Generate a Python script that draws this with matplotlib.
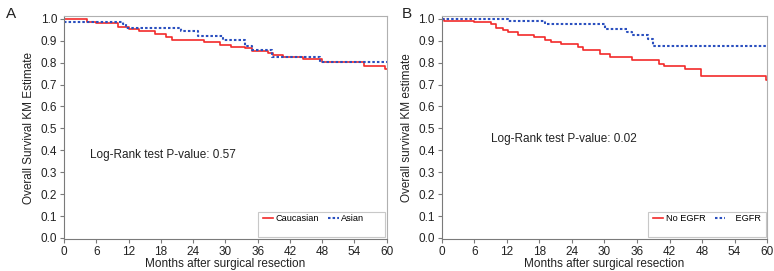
import numpy as np
import matplotlib
matplotlib.use("Agg")
import matplotlib.pyplot as plt
from matplotlib.patches import Rectangle
from matplotlib.lines import Line2D

plt.rcParams['font.family'] = ['Liberation Sans', 'DejaVu Sans']

# panel A: Caucasian vs Asian
cau_t = [0, 4.2, 6, 10, 12, 14, 17, 19, 20, 26, 29, 31, 33.6, 35, 38, 38.8, 40.8, 44.5, 47.9, 55.7, 59.7, 60]
cau_s = [1.0, 0.985, 0.98, 0.965, 0.955, 0.945, 0.93, 0.915, 0.905, 0.895, 0.88, 0.87, 0.865, 0.855,
         0.845, 0.835, 0.825, 0.815, 0.805, 0.785, 0.77, 0.77]
asi_t = [0, 11, 11.6, 21.8, 25, 29.6, 33.6, 34.9, 38.6, 47.6, 60]
asi_s = [0.985, 0.975, 0.96, 0.945, 0.92, 0.905, 0.875, 0.86, 0.825, 0.805, 0.805]

# panel B: No EGFR vs EGFR
noe_t = [0, 0.3, 6, 9, 10, 11.3, 12.2, 14, 17, 19, 20.2, 22, 25.2, 26, 29.2, 31, 35, 40, 40.9, 44.9,
         47.9, 59.8, 60]
noe_s = [1.0, 0.99, 0.985, 0.975, 0.96, 0.95, 0.94, 0.925, 0.915, 0.905, 0.895, 0.885, 0.87, 0.86,
         0.84, 0.825, 0.81, 0.795, 0.785, 0.77, 0.74, 0.72, 0.72]
egf_t = [0, 12.2, 19, 30.1, 34.1, 35, 38.1, 39, 60]
egf_s = [1.0, 0.99, 0.975, 0.955, 0.94, 0.925, 0.91, 0.875, 0.875]

panels = [
    dict(letter='A', lx=0.0077, rect=[0.0827, 0.118, 0.417, 0.823], ylabel='Overall Survival KM Estimate',
         curves=[(cau_t, cau_s, 'Caucasian'), (asi_t, asi_s, 'Asian')],
         ptext='Log-Rank test P-value: 0.57', pxy=(4.8, 0.38), legx=0.60, pad2=''),
    dict(letter='B', lx=0.519, rect=[0.571, 0.118, 0.42, 0.823], ylabel='Overall survival KM estimate',
         curves=[(noe_t, noe_s, 'No EGFR'), (egf_t, egf_s, 'EGFR')],
         ptext='Log-Rank test P-value: 0.02', pxy=(9.0, 0.45), legx=0.634, pad2='   '),
]

RED = '#f22a2a'
BLUE = '#2a4fbf'
SPINE = '#7a7a7a'

fig = plt.figure(figsize=(7.74, 2.71), dpi=100)
for p in panels:
    ax = fig.add_axes(p['rect'])
    (t1, s1, l1), (t2, s2, l2) = p['curves']
    ax.step(t1, s1, where='post', color=RED, lw=1.2)
    ax.step(t2, s2, where='post', color=BLUE, lw=1.5, linestyle=(0, (1.2, 1.0)))
    ax.set_xlim(0, 60)
    ax.set_ylim(-0.005, 1.013)
    ax.set_xticks(np.arange(0, 61, 6))
    ax.set_yticks(np.arange(0, 1.01, 0.1))
    ax.set_yticklabels(['%.1f' % v for v in np.arange(0, 1.01, 0.1)])
    ax.tick_params(labelsize=8.5, length=3, width=0.8, color=SPINE, pad=2, labelcolor='#222222')
    for side in ['left', 'bottom']:
        ax.spines[side].set_color(SPINE)
    for side in ['top', 'right']:
        ax.spines[side].set_color('#b0b0b0')
    ax.set_xlabel('Months after surgical resection', fontsize=8.5, labelpad=0, color='#222222')
    ax.set_ylabel(p['ylabel'], fontsize=8.5, labelpad=4, color='#222222')
    ax.text(p['pxy'][0], p['pxy'][1], p['ptext'], fontsize=8.5, va='center', color='#222222')
    # legend box
    lx = p['legx']
    ax.add_patch(Rectangle((lx, 0.009), 1 - lx - 0.004, 0.112, transform=ax.transAxes,
                           fill=False, edgecolor='#c8c8c8', lw=0.8, clip_on=False))
    handles = [Line2D([], [], color=RED, lw=1.2),
               Line2D([], [], color=BLUE, lw=1.5, linestyle=(0, (1.2, 1.0)))]
    ax.legend(handles, [l1, p['pad2'] + l2], ncol=2, frameon=False, fontsize=6.6, loc='center left',
              bbox_to_anchor=(lx + 0.005, 0.09), handlelength=1.1, handletextpad=0.3,
              columnspacing=1.0, borderaxespad=0)
    fig.text(p['lx'], 0.935, p['letter'], fontsize=11, color='#222222')

fig.savefig('out.png', dpi=100)
